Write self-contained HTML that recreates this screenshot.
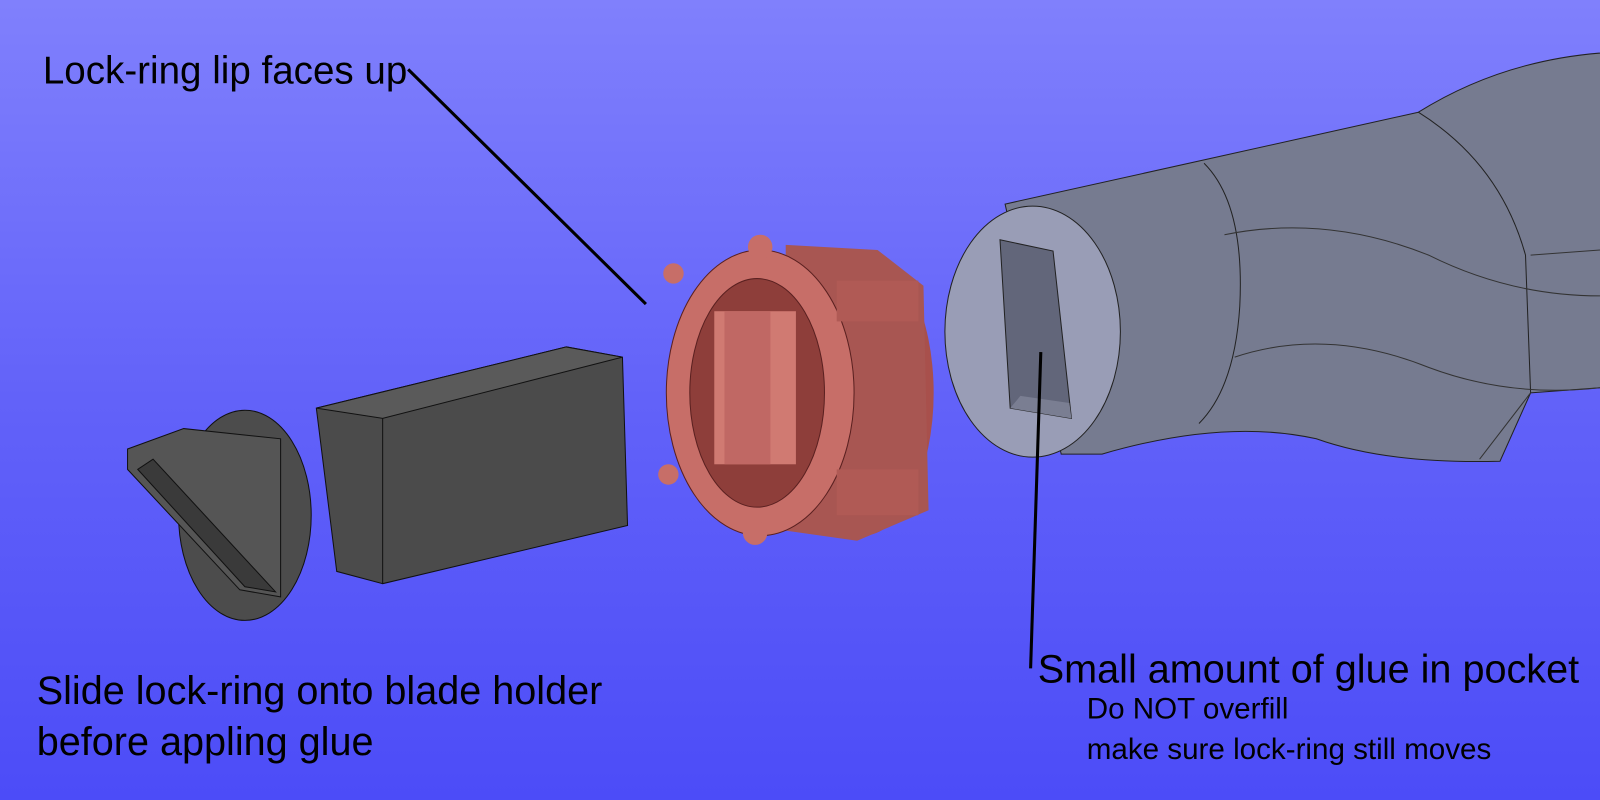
<!DOCTYPE html>
<html><head><meta charset="utf-8"><style>
html,body{margin:0;padding:0;width:1600px;height:800px;overflow:hidden}
body{background:linear-gradient(#8080fc,#6262f9 50%,#4c4cf8);font-family:"Liberation Sans",sans-serif;position:relative}
#w{position:absolute;left:0;top:0;width:1568px;height:784px;transform:scale(1.0204);transform-origin:0 0}
.t{position:absolute;color:#000;white-space:nowrap}
</style></head><body><div id="w">
<svg width="1568" height="784" style="position:absolute;left:0;top:0">
<path d="M985,200 L1390,110 Q1470,60 1568,52 L1600,48 L1600,380 L1568,380 L1500,385 L1470,452 Q1360,455 1290,430 Q1200,410 1080,445 L1040,445 Z" fill="#767b90" stroke="#222" stroke-width="1"/>
<path d="M1180,160 Q1220,200 1215,300 Q1210,380 1175,415" fill="none" stroke="#222"/>
<path d="M1390,110 Q1470,160 1495,250 L1500,385" fill="none" stroke="#222"/>
<path d="M1200,230 Q1300,210 1400,250 Q1480,290 1568,290" fill="none" stroke="#333"/>
<path d="M1210,350 Q1300,320 1400,360 Q1480,390 1568,380" fill="none" stroke="#333"/>
<path d="M1500,250 L1568,245" fill="none" stroke="#333"/>
<path d="M1500,385 L1450,450" fill="none" stroke="#333"/>
<ellipse cx="1012" cy="325" rx="86" ry="123" fill="#999db6" stroke="#222"/>
<polygon points="980,235 1032,246 1050,410 990,400" fill="#62667a" stroke="#222"/>
<polygon points="990,400 1050,410 1048,395 1000,388" fill="#7a7e92"/>
<ellipse cx="845" cy="385" rx="70" ry="140" fill="#a8504c"/>
<path d="M770,240 L860,245 L905,280 L910,500 L840,530 L770,520 Z" fill="#a85652"/>
<ellipse cx="745" cy="385" rx="92" ry="140" fill="#c76e68" stroke="#5a2020"/>
<ellipse cx="742" cy="385" rx="66" ry="112" fill="#8e3e3a" stroke="#5a2020"/>
<rect x="700" y="305" width="80" height="150" fill="#d07a72"/>
<rect x="710" y="305" width="45" height="150" fill="#c06864"/>
<circle cx="660" cy="268" r="10" fill="#c76e68"/><circle cx="745" cy="242" r="12" fill="#c76e68"/>
<circle cx="655" cy="465" r="10" fill="#c76e68"/><circle cx="740" cy="522" r="12" fill="#c76e68"/>
<rect x="820" y="275" width="80" height="40" fill="#b05a55"/>
<rect x="820" y="460" width="80" height="45" fill="#b05a55"/>
<polygon points="310,400 555,340 610,350 615,515 375,572 330,560" fill="#4b4b4b" stroke="#111"/>
<polygon points="555,340 610,350 610,350 375,410 310,400" fill="#5a5a5a" stroke="#111"/>
<line x1="375" y1="410" x2="375" y2="572" stroke="#111"/>
<ellipse cx="240" cy="505" rx="65" ry="103" fill="#4c4c4c" stroke="#111"/>
<polygon points="125,440 180,420 275,430 275,585 235,578 125,460" fill="#555" stroke="#111"/>
<polygon points="135,460 240,575 270,580 150,450" fill="#3a3a3a" stroke="#111"/>
</svg>
<div class="t" style="left:42px;top:49px;font-size:37.8px">Lock-ring lip faces up</div>
<div class="t" style="left:36px;top:653px;font-size:38.8px;line-height:50px">Slide lock-ring onto blade holder<br>before appling glue</div>
<div class="t" style="left:1017px;top:635px;font-size:38.8px">Small amount of glue in pocket</div>
<div class="t" style="left:1065px;top:675px;font-size:29px;line-height:40px">Do NOT overfill<br>make sure lock-ring still moves</div>
<svg width="1568" height="784" style="position:absolute;left:0;top:0">
<line x1="400" y1="68" x2="633" y2="298" stroke="#000" stroke-width="3"/>
<line x1="1020" y1="345" x2="1010" y2="655" stroke="#000" stroke-width="3"/>
</svg>
</div></body></html>
